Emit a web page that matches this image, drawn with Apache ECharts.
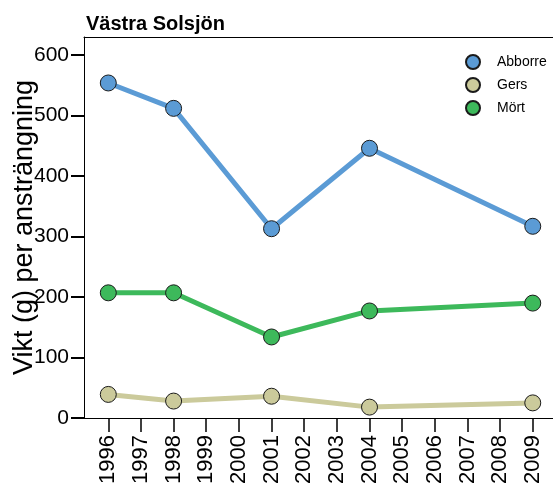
<!DOCTYPE html>
<html>
<head>
<meta charset="utf-8">
<script src="https://cdn.jsdelivr.net/npm/echarts@6/dist/echarts.min.js"></script>
<style>html,body{margin:0;padding:0;background:#fff}#c{width:553px;height:487px}</style>
</head>
<body>
<div id="c"></div>
<script>
const years = [1996, 1998, 2001, 2004, 2009];
const abborre = [554, 512, 313, 446, 317];
const gers = [39, 28, 36, 18, 25];
const mort = [207, 207, 134, 177, 190];
const xTicks = [1996,1997,1998,1999,2000,2001,2002,2003,2004,2005,2006,2007,2008,2009];
const yTicks = [0,100,200,300,400,500,600];

const font = "'Liberation Sans', Arial, sans-serif";
function pairs(vals){ return years.map((y,i)=>[y, vals[i]]); }
function mkSeries(name, vals, color){
  return {
    name, type:'line', data:pairs(vals),
    symbol:'circle', symbolSize:16,
    lineStyle:{color, width:5},
    itemStyle:{color, borderColor:'#1a1a1a', borderWidth:1},
    emphasis:{disabled:true}, animation:false
  };
}
const chart = echarts.init(document.getElementById('c'));
chart.setOption({
  animation:false,
  title:{text:'Västra Solsjön', left:81, top:9,
    textStyle:{fontFamily:font, fontSize:20, fontWeight:'bold', color:'#000'}},
  legend:{
    orient:'vertical', left:460, top:49, itemWidth:14, itemHeight:16, itemGap:7,
    icon:'circle',
    textStyle:{fontFamily:font, fontSize:14, color:'#000', padding:[0,0,0,12]},
    data:['Abborre','Gers','Mört']
  },
  grid:{left:84, right:0, top:37, bottom:69, containLabel:false, outerBoundsMode:'none'},
  xAxis:[{
    type:'value', min:1995.256, max:2009.62,
    axisLine:{show:true, lineStyle:{color:'#000', width:1}},
    axisTick:{show:true, length:14, lineStyle:{color:'#000', width:1.5}, customValues:xTicks},
    axisLabel:{rotate:90, margin:17, fontFamily:font, fontSize:22, color:'#000', customValues:xTicks,
      formatter:v=>String(v)},
    splitLine:{show:false}
  },{
    type:'value', position:'top', min:0, max:1,
    axisLine:{show:true, lineStyle:{color:'#000', width:1}},
    axisTick:{show:false}, axisLabel:{show:false}, splitLine:{show:false}
  }],
  yAxis:{
    type:'value', min:0, max:630,
    name:'Vikt (g) per ansträngning', nameLocation:'middle', nameGap:46, nameMoveOverlap:false,
    nameTextStyle:{fontFamily:font, fontSize:27, color:'#000'},
    axisLine:{show:true, lineStyle:{color:'#000', width:1}},
    axisTick:{show:true, length:13, lineStyle:{color:'#000', width:2}, customValues:yTicks},
    axisLabel:{margin:15, fontFamily:font, fontSize:21, color:'#000', customValues:yTicks},
    splitLine:{show:false}
  },
  series:[
    mkSeries('Abborre', abborre, '#5b9bd5'),
    mkSeries('Gers', gers, '#cbca9b'),
    mkSeries('Mört', mort, '#3db95b')
  ]
});
</script>
</body>
</html>
